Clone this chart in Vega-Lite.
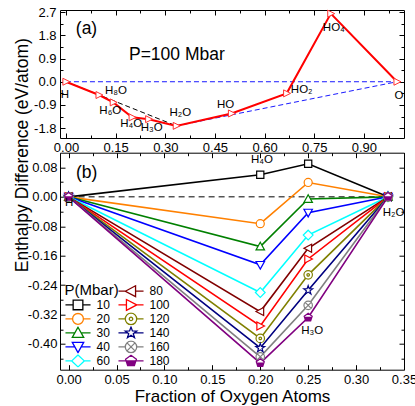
{
  "$schema": "https://vega.github.io/schema/vega-lite/v6.json",
  "background": "white",
  "padding": {"left": 12, "top": 5, "right": 3, "bottom": 2},
  "spacing": 14.7,
  "bounds": "flush",
  "config": {
    "view": {"stroke": "black", "strokeWidth": 1},
    "font": "Liberation Sans",
    "axis": {"domain": false, "grid": false, "labelFont": "Liberation Sans", "labelFontSize": 13, "labelColor": "black", "tickColor": "black", "tickWidth": 1, "labelFlush": false, "labelOverlap": false, "titleFont": "Liberation Sans", "titleFontSize": 17, "titleFontWeight": "normal", "titleColor": "black"},
    "text": {"font": "Liberation Sans", "fontSize": 11.5, "align": "center", "baseline": "middle", "color": "black"}
  },
  "datasets": {
    "a_red": [
      {"x": 0, "y": 0, "name": "H"},
      {"x": 0.1, "y": -0.515, "name": "H₈O"},
      {"x": 0.143, "y": -0.8, "name": "H₆O"},
      {"x": 0.2, "y": -1.38, "name": "H₄O"},
      {"x": 0.25, "y": -1.45, "name": "H₃O"},
      {"x": 0.3333, "y": -1.71, "name": "H₂O"},
      {"x": 0.5, "y": -1.23, "name": "HO"},
      {"x": 0.6667, "y": -0.45, "name": "HO₂"},
      {"x": 0.8, "y": 2.64, "name": "HO₄"},
      {"x": 1, "y": 0, "name": "O"}
    ],
    "a_hull": [
      {"x": 0, "y": 0, "seg": "zero"},
      {"x": 1, "y": 0, "seg": "zero"},
      {"x": 0.3333, "y": -1.71, "seg": "right"},
      {"x": 1, "y": 0, "seg": "right"},
      {"x": 0, "y": 0, "seg": "left"},
      {"x": 0.3333, "y": -1.71, "seg": "left"}
    ],
    "a_notes": [
      {"x": 0.062, "y": 2.05, "t": "(a)"},
      {"x": 0.335, "y": 1.05, "t": "P=100 Mbar"}
    ],
    "b_zero": [
      {"x": 0, "y": 0},
      {"x": 0.3333, "y": 0}
    ],
    "b_series": [
      {"P": "10", "x": 0, "y": 0}, {"P": "10", "x": 0.2, "y": 0.06}, {"P": "10", "x": 0.25, "y": 0.09}, {"P": "10", "x": 0.3333, "y": 0},
      {"P": "20", "x": 0, "y": 0}, {"P": "20", "x": 0.2, "y": -0.073}, {"P": "20", "x": 0.25, "y": 0.039}, {"P": "20", "x": 0.3333, "y": 0},
      {"P": "30", "x": 0, "y": 0}, {"P": "30", "x": 0.2, "y": -0.135}, {"P": "30", "x": 0.25, "y": -0.006}, {"P": "30", "x": 0.3333, "y": 0},
      {"P": "40", "x": 0, "y": 0}, {"P": "40", "x": 0.2, "y": -0.185}, {"P": "40", "x": 0.25, "y": -0.043}, {"P": "40", "x": 0.3333, "y": 0},
      {"P": "60", "x": 0, "y": 0}, {"P": "60", "x": 0.2, "y": -0.26}, {"P": "60", "x": 0.25, "y": -0.104}, {"P": "60", "x": 0.3333, "y": 0},
      {"P": "80", "x": 0, "y": 0}, {"P": "80", "x": 0.2, "y": -0.312}, {"P": "80", "x": 0.25, "y": -0.14}, {"P": "80", "x": 0.3333, "y": 0},
      {"P": "100", "x": 0, "y": 0}, {"P": "100", "x": 0.2, "y": -0.351}, {"P": "100", "x": 0.25, "y": -0.169}, {"P": "100", "x": 0.3333, "y": 0},
      {"P": "120", "x": 0, "y": 0}, {"P": "120", "x": 0.2, "y": -0.385}, {"P": "120", "x": 0.25, "y": -0.212}, {"P": "120", "x": 0.3333, "y": 0},
      {"P": "140", "x": 0, "y": 0}, {"P": "140", "x": 0.2, "y": -0.411}, {"P": "140", "x": 0.25, "y": -0.254}, {"P": "140", "x": 0.3333, "y": 0},
      {"P": "160", "x": 0, "y": 0}, {"P": "160", "x": 0.2, "y": -0.435}, {"P": "160", "x": 0.25, "y": -0.295}, {"P": "160", "x": 0.3333, "y": 0},
      {"P": "180", "x": 0, "y": 0}, {"P": "180", "x": 0.2, "y": -0.452}, {"P": "180", "x": 0.25, "y": -0.328}, {"P": "180", "x": 0.3333, "y": 0}
    ],
    "b_labels": [
      {"x": 0, "y": 0, "name": "H"},
      {"x": 0.3333, "y": 0, "name": "H₂O"},
      {"x": 0.2, "y": 0.06, "name": "H₄O"},
      {"x": 0.25, "y": -0.328, "name": "H₃O"}
    ],
    "b_notes": [
      {"x": 0.0188, "y": 0.066, "t": "(b)"}
    ]
  },
  "vconcat": [
    {
      "width": 344,
      "height": 128,
      "resolve": {"axis": {"x": "independent", "y": "independent"}},
      "encoding": {
        "x": {"field": "x", "type": "quantitative", "scale": {"domain": [-0.018, 1.021], "nice": false, "zero": false}, "axis": null},
        "y": {"field": "y", "type": "quantitative", "scale": {"domain": [-2.18, 2.78], "nice": false, "zero": false}, "axis": null}
      },
      "layer": [
        {
          "data": {"name": "a_hull"},
          "transform": [{"filter": "datum.seg !== 'left'"}],
          "mark": {"type": "line", "stroke": "#1a1aff", "strokeDash": [5, 3], "strokeWidth": 1},
          "encoding": {
            "detail": {"field": "seg"},
            "x": {"field": "x", "type": "quantitative", "scale": {"domain": [-0.018, 1.021], "nice": false, "zero": false},
              "axis": {"orient": "bottom", "values": [0, 0.075, 0.15, 0.225, 0.3, 0.375, 0.45, 0.525, 0.6, 0.675, 0.75, 0.825, 0.9, 0.975],
                "labelExpr": "abs(datum.value/0.15-round(datum.value/0.15))>0.01 ? '' : format(datum.value,'.2f')",
                "tickSize": {"condition": {"test": "abs(datum.value/0.15-round(datum.value/0.15))>0.01", "value": -3}, "value": -5},
                "labelPadding": 8, "title": null}},
            "y": {"field": "y", "type": "quantitative", "scale": {"domain": [-2.18, 2.78], "nice": false, "zero": false},
              "axis": {"orient": "left", "values": [-1.8, -1.35, -0.9, -0.45, 0, 0.45, 0.9, 1.35, 1.8, 2.25, 2.7],
                "labelExpr": "abs(datum.value/0.9-round(datum.value/0.9))>0.01 ? '' : replace(format(datum.value,'.1f'),'−','-')",
                "tickSize": {"condition": {"test": "abs(datum.value/0.9-round(datum.value/0.9))>0.01", "value": -3}, "value": -5},
                "labelPadding": 9, "title": null}}
          }
        },
        {
          "data": {"name": "a_hull"},
          "transform": [{"filter": "datum.seg === 'left'"}],
          "mark": {"type": "line", "stroke": "black", "strokeDash": [5, 3], "strokeWidth": 1},
          "encoding": {
            "x": {"field": "x", "type": "quantitative", "scale": {"domain": [-0.018, 1.021], "nice": false, "zero": false},
              "axis": {"orient": "top", "values": [0, 0.075, 0.15, 0.225, 0.3, 0.375, 0.45, 0.525, 0.6, 0.675, 0.75, 0.825, 0.9, 0.975], "labels": false,
                "tickSize": {"condition": {"test": "abs(datum.value/0.15-round(datum.value/0.15))>0.01", "value": -3}, "value": -5}, "title": null}},
            "y": {"field": "y", "type": "quantitative", "scale": {"domain": [-2.18, 2.78], "nice": false, "zero": false},
              "axis": {"orient": "right", "values": [-1.8, -1.35, -0.9, -0.45, 0, 0.45, 0.9, 1.35, 1.8, 2.25, 2.7], "labels": false,
                "tickSize": {"condition": {"test": "abs(datum.value/0.9-round(datum.value/0.9))>0.01", "value": -3}, "value": -5}, "title": null}}
          }
        },
        {
          "data": {"name": "a_red"},
          "mark": {"type": "line", "stroke": "#ff0000", "strokeWidth": 2},
          "encoding": {}
        },
        {
          "data": {"name": "a_red"},
          "mark": {"type": "point", "filled": true, "fill": "white", "stroke": "#ff3030", "strokeWidth": 1, "size": 60, "opacity": 1, "shape": "M1,0L-0.8,-0.9L-0.8,0.9Z"},
          "encoding": {}
        },
        {"data": {"name": "a_red"}, "transform": [{"filter": "datum.name === 'H'"}], "mark": {"type": "text", "dx": -1, "dy": 13}, "encoding": {"text": {"field": "name"}}},
        {"data": {"name": "a_red"}, "transform": [{"filter": "datum.name === 'H₈O'"}], "mark": {"type": "text", "dx": 17, "dy": -4}, "encoding": {"text": {"field": "name"}}},
        {"data": {"name": "a_red"}, "transform": [{"filter": "datum.name === 'H₆O'"}], "mark": {"type": "text", "dx": -3, "dy": 8.5}, "encoding": {"text": {"field": "name"}}},
        {"data": {"name": "a_red"}, "transform": [{"filter": "datum.name === 'H₄O'"}], "mark": {"type": "text", "dx": -1, "dy": 6.5}, "encoding": {"text": {"field": "name"}}},
        {"data": {"name": "a_red"}, "transform": [{"filter": "datum.name === 'H₃O'"}], "mark": {"type": "text", "dx": 3, "dy": 8.5}, "encoding": {"text": {"field": "name"}}},
        {"data": {"name": "a_red"}, "transform": [{"filter": "datum.name === 'H₂O'"}], "mark": {"type": "text", "dx": 4, "dy": -13}, "encoding": {"text": {"field": "name"}}},
        {"data": {"name": "a_red"}, "transform": [{"filter": "datum.name === 'HO'"}], "mark": {"type": "text", "dx": -6, "dy": -8}, "encoding": {"text": {"field": "name"}}},
        {"data": {"name": "a_red"}, "transform": [{"filter": "datum.name === 'HO₂'"}], "mark": {"type": "text", "dx": 15, "dy": -3}, "encoding": {"text": {"field": "name"}}},
        {"data": {"name": "a_red"}, "transform": [{"filter": "datum.name === 'HO₄'"}], "mark": {"type": "text", "dx": 3, "dy": 14}, "encoding": {"text": {"field": "name"}}},
        {"data": {"name": "a_red"}, "transform": [{"filter": "datum.name === 'O'"}], "mark": {"type": "text", "dx": 2, "dy": 14.5}, "encoding": {"text": {"field": "name"}}},
        {"data": {"name": "a_notes"}, "mark": {"type": "text", "fontSize": 17.5}, "encoding": {"text": {"field": "t"}}}
      ]
    },
    {
      "width": 344,
      "height": 217,
      "resolve": {"scale": {"stroke": "independent", "shape": "independent"}, "axis": {"x": "independent", "y": "independent"}},
      "encoding": {
        "x": {"field": "x", "type": "quantitative", "scale": {"domain": [-0.009, 0.35], "nice": false, "zero": false}, "axis": null},
        "y": {"field": "y", "type": "quantitative", "scale": {"domain": [-0.47, 0.12], "nice": false, "zero": false}, "axis": null}
      },
      "layer": [
        {
          "data": {"name": "b_zero"},
          "mark": {"type": "line", "stroke": "black", "strokeDash": [6, 4], "strokeWidth": 1},
          "encoding": {
            "x": {"field": "x", "type": "quantitative", "scale": {"domain": [-0.009, 0.35], "nice": false, "zero": false},
              "axis": {"orient": "bottom", "values": [0, 0.025, 0.05, 0.075, 0.1, 0.125, 0.15, 0.175, 0.2, 0.225, 0.25, 0.275, 0.3, 0.325, 0.35],
                "labelExpr": "abs(datum.value/0.05-round(datum.value/0.05))>0.01 ? '' : format(datum.value,'.2f')",
                "tickSize": {"condition": {"test": "abs(datum.value/0.05-round(datum.value/0.05))>0.01", "value": -3}, "value": -5},
                "labelPadding": 9, "title": "Fraction of Oxygen Atoms", "titleY": 32, "titleBaseline": "alphabetic", "titleFontSize": 17}},
            "y": {"field": "y", "type": "quantitative", "scale": {"domain": [-0.47, 0.12], "nice": false, "zero": false},
              "axis": {"orient": "left", "values": [-0.44, -0.4, -0.36, -0.32, -0.28, -0.24, -0.2, -0.16, -0.12, -0.08, -0.04, 0, 0.04, 0.08],
                "labelExpr": "abs(datum.value/0.08-round(datum.value/0.08))>0.01 ? '' : replace(format(datum.value,'.2f'),'−','-')",
                "tickSize": {"condition": {"test": "abs(datum.value/0.08-round(datum.value/0.08))>0.01", "value": -3}, "value": -5},
                "labelPadding": 8, "title": "Enthalpy Difference (eV/atom)", "titleX": -33, "titleY": 2, "titleBaseline": "alphabetic", "titleAlign": "center", "titleFontSize": 17.5}}
          }
        },
        {
          "data": {"name": "b_series"},
          "mark": {"type": "line", "strokeWidth": 1.6},
          "encoding": {
            "x": {"field": "x", "type": "quantitative", "scale": {"domain": [-0.009, 0.35], "nice": false, "zero": false},
              "axis": {"orient": "top", "values": [0, 0.025, 0.05, 0.075, 0.1, 0.125, 0.15, 0.175, 0.2, 0.225, 0.25, 0.275, 0.3, 0.325, 0.35], "labels": false,
                "tickSize": {"condition": {"test": "abs(datum.value/0.05-round(datum.value/0.05))>0.01", "value": -3}, "value": -5}, "title": null}},
            "y": {"field": "y", "type": "quantitative", "scale": {"domain": [-0.47, 0.12], "nice": false, "zero": false},
              "axis": {"orient": "right", "values": [-0.44, -0.4, -0.36, -0.32, -0.28, -0.24, -0.2, -0.16, -0.12, -0.08, -0.04, 0, 0.04, 0.08], "labels": false,
                "tickSize": {"condition": {"test": "abs(datum.value/0.08-round(datum.value/0.08))>0.01", "value": -3}, "value": -5}, "title": null}},
            "stroke": {"field": "P", "type": "nominal", "legend": null,
              "scale": {"domain": ["10", "20", "30", "40", "60", "80", "100", "120", "140", "160", "180"],
                "range": ["#000000", "#ff8000", "#008000", "#0000ff", "#00ffff", "#800000", "#ff0000", "#808000", "#000080", "#808080", "#800080"]}}
          }
        },
        {
          "data": {"name": "b_series"},
          "mark": {"type": "point", "filled": true, "fill": "white", "strokeWidth": 1.2, "size": 72, "opacity": 1},
          "encoding": {
            "stroke": {"field": "P", "type": "nominal", "legend": null,
              "scale": {"domain": ["10", "20", "30", "40", "60", "80", "100", "120", "140", "160", "180"],
                "range": ["#000000", "#ff8000", "#008000", "#0000ff", "#00ffff", "#800000", "#ff0000", "#808000", "#000080", "#808080", "#800080"]}},
            "shape": {"field": "P", "type": "nominal", "legend": null,
              "scale": {"domain": ["10", "20", "30", "40", "60", "80", "100", "120", "140", "160", "180"],
                "range": [
                  "M-0.85,-0.85H0.85V0.85H-0.85Z",
                  "M-0.95,0A0.95,0.95,0,1,1,0.95,0A0.95,0.95,0,1,1,-0.95,0Z",
                  "M0,-1L1,0.8H-1Z",
                  "M0,1L1,-0.8H-1Z",
                  "M0,-1.15L1.15,0L0,1.15L-1.15,0Z",
                  "M-1,0L0.8,-0.95V0.95Z",
                  "M1,0L-0.8,-0.95V0.95Z",
                  "M-1,0A1,1,0,1,1,1,0A1,1,0,1,1,-1,0ZM-0.3,0A0.3,0.3,0,1,1,0.3,0A0.3,0.3,0,1,1,-0.3,0Z",
                  "M0,-1.1L0.26,-0.36L1.05,-0.34L0.42,0.14L0.65,0.89L0,0.44L-0.65,0.89L-0.42,0.14L-1.05,-0.34L-0.26,-0.36Z",
                  "M-1,0A1,1,0,1,1,1,0A1,1,0,1,1,-1,0ZM-0.7,-0.7L0.7,0.7M-0.7,0.7L0.7,-0.7",
                  "M0,-1L0.95,-0.31L0.59,0.81H-0.59L-0.95,-0.31ZM-0.85,0H0.85M-0.78,0.2H0.78M-0.72,0.4H0.72M-0.66,0.6H0.66"
                ]}}
          }
        },
        {
          "data": {"name": "b_series"},
          "transform": [{"filter": "false"}],
          "mark": {"type": "point", "filled": true, "fill": "white", "strokeWidth": 1.3, "opacity": 1},
          "encoding": {
            "stroke": {"field": "P", "type": "nominal",
              "scale": {"domain": ["blank", "10", "20", "30", "40", "60", "80", "100", "120", "140", "160", "180"],
                "range": ["transparent", "#000000", "#ff8000", "#008000", "#0000ff", "#00ffff", "#800000", "#ff0000", "#808000", "#000080", "#808080", "#800080"]},
              "legend": {"title": "P(Mbar)", "orient": "none", "legendX": 4.5, "legendY": 130, "columns": 2, "symbolSize": 130, "symbolStrokeWidth": 1.3, "symbolFillColor": "white", "symbolOffset": 7, "labelOffset": 12, "labelFontSize": 12, "labelFont": "Liberation Sans", "labelColor": "black", "titleFontSize": 15, "titleFont": "Liberation Sans", "titleFontWeight": "normal", "titleColor": "black", "titlePadding": -13.5, "columnPadding": 7, "rowPadding": 0, "clipHeight": 13.4, "padding": 0, "labelExpr": "datum.value === 'blank' ? '' : datum.label"}},
            "shape": {"field": "P", "type": "nominal",
              "scale": {"domain": ["blank", "10", "20", "30", "40", "60", "80", "100", "120", "140", "160", "180"],
                "range": [
                  "M0,0L0,0",
                  "M-2.2,0H-0.85M0.85,0H2.2M-0.85,-0.85H0.85V0.85H-0.85Z",
                  "M-2.2,0H-0.95M0.95,0H2.2M-0.95,0A0.95,0.95,0,1,1,0.95,0A0.95,0.95,0,1,1,-0.95,0Z",
                  "M-2.2,0H-0.556M0.556,0H2.2M0,-1L1,0.8H-1Z",
                  "M-2.2,0H-0.556M0.556,0H2.2M0,1L1,-0.8H-1Z",
                  "M-2.2,0H-1.1M1.1,0H2.2M0,-1.05L1.1,0L0,1.05L-1.1,0Z",
                  "M-2.2,0H-1M0.8,0H2.2M-1,0L0.8,-0.95V0.95Z",
                  "M-2.2,0H-0.8M1,0H2.2M1,0L-0.8,-0.95V0.95Z",
                  "M-2.2,0H-1M1,0H2.2M-1,0A1,1,0,1,1,1,0A1,1,0,1,1,-1,0ZM-0.3,0A0.3,0.3,0,1,1,0.3,0A0.3,0.3,0,1,1,-0.3,0Z",
                  "M-2.2,0H-0.58M0.58,0H2.2M0,-1.05L0.25,-0.34L1.0,-0.32L0.4,0.13L0.62,0.85L0,0.42L-0.62,0.85L-0.4,0.13L-1.0,-0.32L-0.25,-0.34Z",
                  "M-2.2,0H-1M1,0H2.2M-1,0A1,1,0,1,1,1,0A1,1,0,1,1,-1,0ZM-0.7,-0.7L0.7,0.7M-0.7,0.7L0.7,-0.7",
                  "M-2.2,0H2.2M0,-1L0.95,-0.31L0.59,0.81H-0.59L-0.95,-0.31ZM-0.78,0.2H0.78M-0.72,0.4H0.72M-0.66,0.6H0.66"
                ]}}
          }
        },
        {"data": {"name": "b_labels"}, "transform": [{"filter": "datum.name === 'H'"}], "mark": {"type": "text", "dx": 0.5, "dy": 6.5}, "encoding": {"text": {"field": "name"}}},
        {"data": {"name": "b_labels"}, "transform": [{"filter": "datum.name === 'H₂O'"}], "mark": {"type": "text", "dx": 5.5, "dy": 15.7}, "encoding": {"text": {"field": "name"}}},
        {"data": {"name": "b_labels"}, "transform": [{"filter": "datum.name === 'H₄O'"}], "mark": {"type": "text", "dx": 1.6, "dy": -14.3}, "encoding": {"text": {"field": "name"}}},
        {"data": {"name": "b_labels"}, "transform": [{"filter": "datum.name === 'H₃O'"}], "mark": {"type": "text", "dx": 4, "dy": 13.3}, "encoding": {"text": {"field": "name"}}},
        {"data": {"name": "b_notes"}, "mark": {"type": "text", "fontSize": 17.5}, "encoding": {"text": {"field": "t"}}}
      ]
    }
  ]
}
